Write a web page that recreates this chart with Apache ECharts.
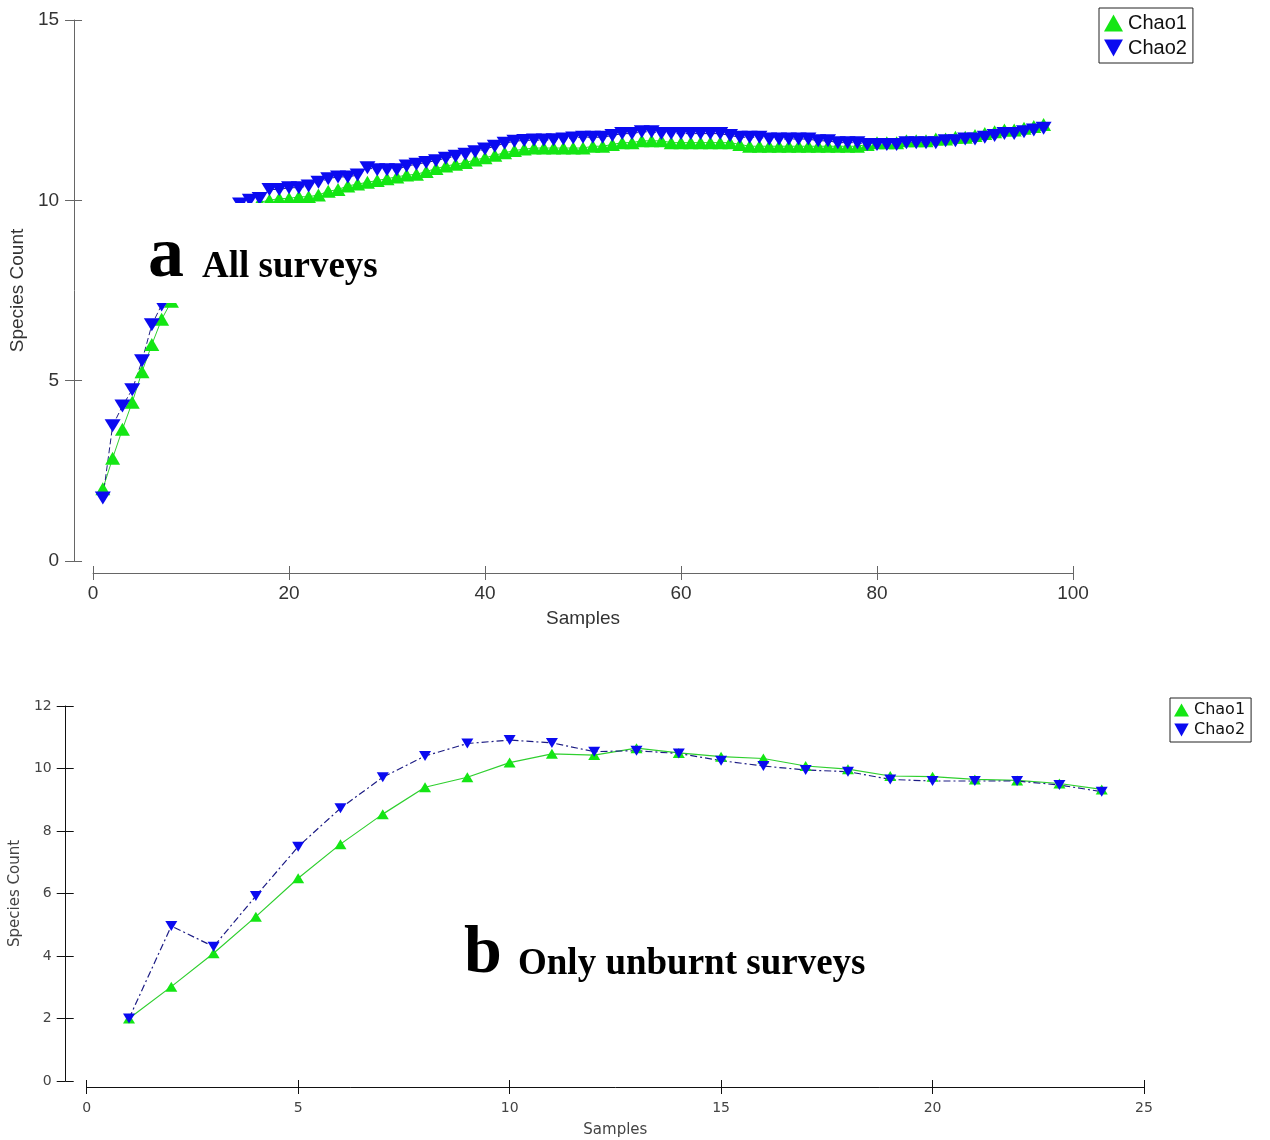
<!DOCTYPE html>
<html>
<head>
<meta charset="utf-8">
<title>Chao1 / Chao2 species accumulation</title>
<script src="https://cdn.jsdelivr.net/npm/echarts@6/dist/echarts.min.js"></script>
<style>
  html, body { margin: 0; padding: 0; background: #fff; }
  #chart { width: 1270px; height: 1140px; }
</style>
</head>
<body>
<div id="chart"></div>
<script>
// ---- data ----
// a: all surveys, samples 1..97
const chao1All = [
  2.0, 2.85, 3.65, 4.4, 5.25, 6.0, 6.7, 7.2, 7.7, 8.15,
  8.55, 8.9, 9.2, 9.45, 9.65, 9.8, 9.95, 10.0, 10.05, 10.05,
  10.1, 10.1, 10.15, 10.25, 10.3, 10.4, 10.45, 10.5, 10.55, 10.6,
  10.65, 10.7, 10.72, 10.8, 10.88, 10.95, 11.0, 11.05, 11.12, 11.18,
  11.25, 11.32, 11.38, 11.42, 11.45, 11.45, 11.45, 11.45, 11.45, 11.45,
  11.5, 11.5, 11.55, 11.6, 11.6, 11.65, 11.65, 11.65, 11.6, 11.6,
  11.6, 11.6, 11.6, 11.6, 11.6, 11.55, 11.5, 11.5, 11.5, 11.5,
  11.5, 11.5, 11.5, 11.5, 11.5, 11.5, 11.5, 11.5, 11.55, 11.6,
  11.6, 11.6, 11.65, 11.65, 11.65, 11.7, 11.7, 11.75, 11.75, 11.8,
  11.85, 11.9, 11.95, 11.95, 12.0, 12.05, 12.1
];
const chao2All = [
  1.75, 3.75, 4.3, 4.75, 5.55, 6.55, 7.1, 7.6, 8.1, 8.55,
  8.9, 9.2, 9.45, 9.7, 9.9, 10.0, 10.05, 10.3, 10.3, 10.35,
  10.35, 10.4, 10.5, 10.6, 10.65, 10.65, 10.7, 10.9, 10.85, 10.85,
  10.85, 10.95, 11.0, 11.05, 11.1, 11.17, 11.22, 11.28, 11.35, 11.42,
  11.5, 11.58, 11.64, 11.66, 11.67, 11.67, 11.68, 11.7, 11.73, 11.75,
  11.75, 11.75, 11.8, 11.85, 11.85, 11.9, 11.9, 11.85, 11.85, 11.85,
  11.85, 11.85, 11.85, 11.85, 11.8, 11.75, 11.75, 11.75, 11.7, 11.7,
  11.7, 11.7, 11.7, 11.65, 11.65, 11.6, 11.6, 11.6, 11.55, 11.55,
  11.55, 11.55, 11.6, 11.6, 11.6, 11.6, 11.65, 11.65, 11.7, 11.7,
  11.75, 11.8, 11.85, 11.85, 11.9, 11.95, 12.0
];
// b: only unburnt surveys, samples 1..24
const chao1Unburnt = [
  2.0, 3.02, 4.09, 5.26, 6.49, 7.58, 8.54, 9.4, 9.72, 10.19,
  10.47, 10.43, 10.65, 10.5, 10.38, 10.32, 10.08, 9.98, 9.76, 9.74,
  9.65, 9.62, 9.52, 9.33
];
const chao2Unburnt = [
  2.0, 4.96, 4.3, 5.92, 7.5, 8.73, 9.72, 10.4, 10.8, 10.91,
  10.82, 10.54, 10.57, 10.48, 10.25, 10.08, 9.95, 9.9, 9.65, 9.6,
  9.6, 9.6, 9.47, 9.26
];
const seriesNames = ['Chao1', 'Chao2'];
const xTicksAll = { min: 0, max: 100, interval: 20 };
const yTicksAll = { min: 0, max: 15, interval: 5 };
const xTicksUnburnt = { min: 0, max: 25, interval: 5 };
const yTicksUnburnt = { min: 0, max: 12, interval: 2 };

const GREEN = '#14e614';
const BLUE = '#0a0af0';
const NAVY = '#1c1c84';
const DOWN_TRI = 'path://M0,0L10,0L5,9Z';

function pairs(arr) {
  return arr.map((v, i) => [i + 1, v]);
}

// main axis + a tick-only twin so the ticks cross the axis line
function xAxes(grid, ticks, opt) {
  return [{
    type: 'value', gridIndex: grid, position: 'bottom', min: ticks.min, max: ticks.max, interval: ticks.interval,
    offset: opt.offset, name: 'Samples', nameLocation: 'middle', nameGap: opt.nameGap,
    nameTextStyle: { fontFamily: opt.font, fontSize: opt.nameSize, color: opt.textColor },
    axisLine: { onZero: false, lineStyle: { color: opt.lineColor, width: 1 } },
    axisTick: { length: 7, lineStyle: { color: opt.lineColor } },
    axisLabel: { margin: opt.labelMargin, fontFamily: opt.font, fontSize: opt.labelSize, color: opt.textColor },
    splitLine: { show: false }
  }, {
    type: 'value', gridIndex: grid, position: 'bottom', min: ticks.min, max: ticks.max, interval: ticks.interval,
    offset: opt.offset, axisLine: { show: false, onZero: false },
    axisTick: { inside: true, length: 7, lineStyle: { color: opt.lineColor } },
    axisLabel: { show: false }, splitLine: { show: false }
  }];
}
function yAxes(grid, ticks, opt) {
  return [{
    type: 'value', gridIndex: grid, position: 'left', min: ticks.min, max: ticks.max, interval: ticks.interval,
    offset: opt.offset, name: 'Species Count', nameLocation: 'middle', nameGap: opt.nameGap,
    nameTextStyle: { fontFamily: opt.font, fontSize: opt.nameSize, color: opt.textColor },
    axisLine: { show: true, onZero: false, lineStyle: { color: opt.lineColor, width: 1 } },
    axisTick: { show: true, length: 9, lineStyle: { color: opt.lineColor } },
    axisLabel: { margin: opt.labelMargin, fontFamily: opt.font, fontSize: opt.labelSize, color: opt.textColor },
    splitLine: { show: false }
  }, {
    type: 'value', gridIndex: grid, position: 'left', min: ticks.min, max: ticks.max, interval: ticks.interval,
    offset: opt.offset, axisLine: { show: false, onZero: false },
    axisTick: { show: true, inside: true, length: 8, lineStyle: { color: opt.lineColor } },
    axisLabel: { show: false }, splitLine: { show: false }
  }];
}

function legend(left, top, fontFamily, fontSize, iconW, iconH, pad, gap) {
  return {
    orient: 'vertical', left: left, top: top, padding: pad, itemGap: gap,
    itemWidth: iconW, itemHeight: iconH,
    backgroundColor: '#fff', borderColor: '#222', borderWidth: 1,
    textStyle: { fontFamily: fontFamily, fontSize: fontSize, color: '#111' },
    data: [
      { name: seriesNames[0], icon: 'triangle', itemStyle: { color: GREEN } },
      { name: seriesNames[1], icon: DOWN_TRI, itemStyle: { color: BLUE } }
    ]
  };
}

const topStyle = { font: 'Liberation Sans', labelSize: 19, nameSize: 19, textColor: '#333', lineColor: '#666' };
const botStyle = { font: 'DejaVu Sans', labelSize: 14, nameSize: 15, textColor: '#444', lineColor: '#111' };

const chart = echarts.init(document.getElementById('chart'));
chart.setOption({
  animation: false,
  backgroundColor: '#fff',
  grid: [
    { left: 92, right: 197, top: 20, bottom: 579 },
    { left: 83, right: 126, top: 706, bottom: 59 }
  ],
  xAxis: [
    ...xAxes(0, xTicksAll, Object.assign({ offset: 12, nameGap: 36, labelMargin: 11 }, topStyle)),
    ...xAxes(1, xTicksUnburnt, Object.assign({ offset: 6, nameGap: 36, labelMargin: 14 }, botStyle))
  ],
  yAxis: [
    ...yAxes(0, yTicksAll, Object.assign({ offset: 19, nameGap: 45, labelMargin: 15 }, topStyle)),
    ...yAxes(1, yTicksUnburnt, Object.assign({ offset: 21, nameGap: 37, labelMargin: 14 }, botStyle))
  ],
  legend: [
    legend(1099, 8, 'Liberation Sans', 20, 19, 17, [5, 6, 5, 5], 5),
    legend(1170, 698, 'DejaVu Sans', 16, 15, 13, [4, 6, 4, 4], 4)
  ],
  series: [
    {
      name: seriesNames[0], type: 'line', xAxisIndex: 0, yAxisIndex: 0,
      data: pairs(chao1All), symbol: 'triangle', symbolSize: [15, 13], showAllSymbol: true,
      itemStyle: { color: GREEN }, lineStyle: { color: '#2fcf2f', width: 1 }
    },
    {
      name: seriesNames[1], type: 'line', xAxisIndex: 0, yAxisIndex: 0,
      data: pairs(chao2All), symbol: DOWN_TRI, symbolSize: [16, 13], showAllSymbol: true,
      itemStyle: { color: BLUE }, lineStyle: { color: NAVY, width: 1, type: [6, 3] }
    },
    {
      name: seriesNames[0], type: 'line', xAxisIndex: 2, yAxisIndex: 2,
      data: pairs(chao1Unburnt), symbol: 'triangle', symbolSize: [12, 10], showAllSymbol: true,
      itemStyle: { color: GREEN }, lineStyle: { color: '#2fcf2f', width: 1.2 }
    },
    {
      name: seriesNames[1], type: 'line', xAxisIndex: 2, yAxisIndex: 2,
      data: pairs(chao2Unburnt), symbol: DOWN_TRI, symbolSize: [12, 10], showAllSymbol: true,
      itemStyle: { color: BLUE }, lineStyle: { color: NAVY, width: 1.2, type: [7, 3, 2, 3] }
    }
  ],
  graphic: [
    // the panel label was pasted over the curve with a white box
    { type: 'rect', z: 100, shape: { x: 140, y: 203, width: 248, height: 100 }, style: { fill: '#fff' } },
    { type: 'text', z: 101, x: 148, y: 257,
      style: { text: 'a', font: 'bold 72px "Liberation Serif"', fill: '#000', verticalAlign: 'middle' } },
    { type: 'text', z: 101, x: 202, y: 267,
      style: { text: 'All surveys', font: 'bold 37px "Liberation Serif"', fill: '#000', verticalAlign: 'middle' } },
    { type: 'text', z: 101, x: 464, y: 954,
      style: { text: 'b', font: 'bold 68px "Liberation Serif"', fill: '#000', verticalAlign: 'middle' } },
    { type: 'text', z: 101, x: 518, y: 964,
      style: { text: 'Only unburnt surveys', font: 'bold 37px "Liberation Serif"', fill: '#000', verticalAlign: 'middle' } }
  ]
});
</script>
</body>
</html>
